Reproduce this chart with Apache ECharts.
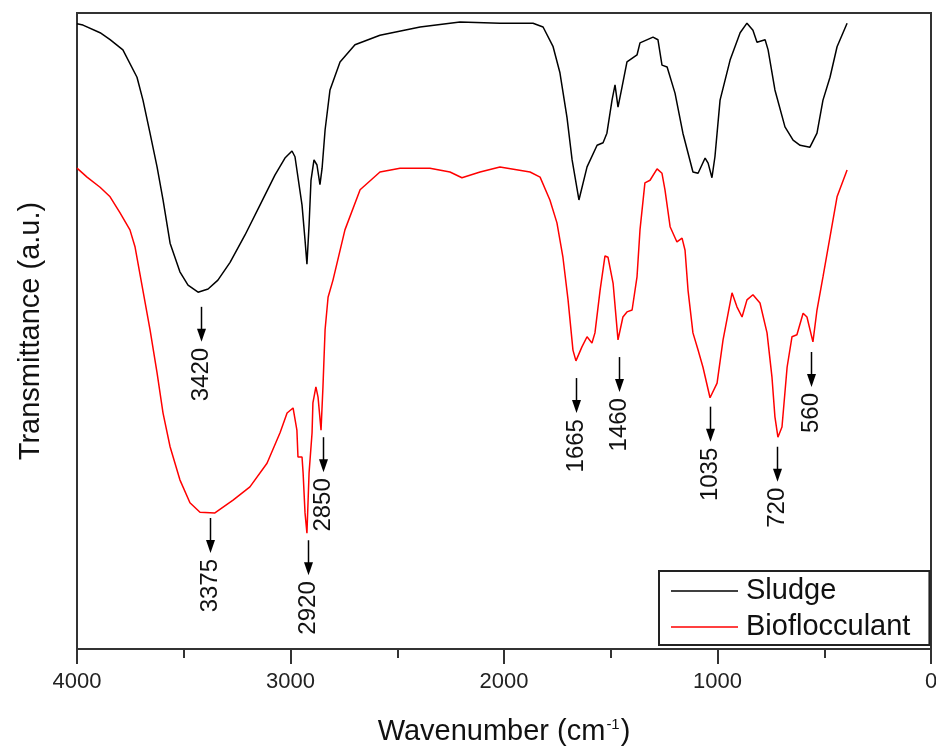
<!DOCTYPE html>
<html>
<head>
<meta charset="utf-8">
<script src="https://cdn.jsdelivr.net/npm/echarts@6/dist/echarts.min.js"></script>
<style>html,body{margin:0;padding:0;background:#fff;overflow:hidden}#c{width:936px;height:751px}</style>
</head>
<body>
<div id="c"></div>
<script>
// Sludge (black): [wavenumber, transmittance a.u.]
var sludgeWave = [4000,3972,3892,3845,3785,3719,3691,3658,3625,3597,3564,3518,3480,3433,3386,3340,3283,3213,3143,3073,3026,2993,2979,2946,2932,2923,2913,2904,2890,2876,2862,2852,2838,2815,2768,2698,2581,2393,2206,2019,1864,1817,1770,1738,1705,1681,1649,1611,1564,1536,1518,1494,1480,1466,1447,1424,1377,1363,1302,1279,1260,1236,1199,1162,1115,1091,1058,1044,1026,1012,988,941,894,862,834,815,777,763,731,684,646,613,567,534,506,473,440,393];
var sludgeT = [98.3,98.1,96.9,95.8,94.2,89.9,86.3,81.1,75.8,70.6,63.8,59.3,57.2,56.1,56.6,58.0,60.8,65.1,69.8,74.5,77.2,78.3,77.4,69.8,64.3,60.5,66.7,73.7,76.9,76.1,73.0,75.6,81.6,87.9,92.3,95.0,96.5,97.8,98.6,98.4,98.4,97.8,94.7,90.6,83.6,76.9,70.6,75.8,79.2,79.6,81.1,86.3,88.7,85.2,88.4,92.3,93.4,95.3,96.2,95.8,91.8,91.5,87.4,81.1,75.0,74.8,77.2,76.4,74.1,77.4,86.3,92.6,96.9,98.4,97.3,95.4,95.8,94.2,87.9,82.1,80.0,79.2,78.9,81.1,86.3,89.9,94.7,98.4];
// Bioflocculant (red)
var biofWave = [4000,3953,3892,3845,3799,3752,3728,3658,3625,3597,3564,3518,3471,3424,3354,3269,3190,3110,3049,3016,2988,2970,2965,2946,2941,2932,2923,2913,2899,2895,2881,2871,2857,2848,2838,2824,2801,2745,2674,2581,2487,2347,2253,2197,2112,2019,1878,1831,1785,1752,1724,1700,1677,1663,1635,1611,1588,1574,1550,1527,1513,1489,1466,1443,1424,1400,1377,1363,1340,1316,1283,1260,1246,1222,1190,1166,1152,1138,1115,1091,1068,1035,1002,974,932,909,885,862,834,801,768,745,731,717,698,674,651,628,599,581,553,534,506,473,440,393];
var biofT = [75.6,74.2,72.6,71.1,68.6,65.9,63.2,50.2,43.4,37.1,31.8,26.6,23.0,21.5,21.4,23.4,25.5,29.2,34.0,37.1,37.9,34.4,30.2,30.2,27.7,21.4,18.2,27.7,34.0,38.7,41.2,39.6,34.4,41.2,50.2,55.3,58.0,65.9,72.2,75.0,75.6,75.6,75.0,74.1,75.0,75.8,75.0,74.2,70.6,67.0,61.6,54.9,47.0,45.3,47.5,49.1,48.1,49.7,56.4,61.8,61.6,57.5,48.6,52.2,53.0,53.3,58.5,65.9,73.3,73.7,75.5,74.8,72.2,66.4,64.0,64.6,62.7,56.4,49.7,47.0,44.3,39.5,41.8,48.6,56.0,53.8,52.2,54.9,55.7,54.4,49.7,42.8,36.5,33.3,34.9,44.3,49.1,49.4,52.8,52.2,48.3,53.3,58.5,64.8,71.1,75.3];
// Peak annotations: label wavenumber and arrow-top level (a.u.)
var peakLabels = [3420, 3375, 2920, 2850, 1665, 1460, 1035, 720, 560];
var peakLevels = [53.8, 20.6, 17.1, 33.3, 42.6, 45.9, 38.1, 31.8, 46.7];
var xTicks = [4000, 3000, 2000, 1000, 0];

function zip(a, b) { return a.map(function (v, i) { return [v, b[i]]; }); }

var FONT = '"Liberation Sans", Arial, sans-serif';
var LEG_ICON = 'path://M0,0H67V1.6H0Z';
var chart = echarts.init(document.getElementById('c'), null, {renderer: 'canvas'});
chart.setOption({
  animation: false,
  backgroundColor: '#fff',
  textStyle: {fontFamily: FONT},
  grid: {left: 77, right: 5, top: 13, bottom: 102, show: true, borderColor: '#333', borderWidth: 2,
    backgroundColor: 'transparent', containLabel: false, outerBoundsMode: 'none'},
  xAxis: {
    type: 'value', inverse: true, min: 0, max: 4000, interval: 1000,
    axisLine: {show: true, lineStyle: {color: '#333', width: 2}},
    axisTick: {show: true, length: 15, lineStyle: {color: '#333', width: 2}},
    minorTick: {show: true, splitNumber: 2, length: 9, lineStyle: {color: '#333', width: 2}},
    splitLine: {show: false},
    axisLabel: {fontSize: 22, color: '#222', fontFamily: FONT, margin: 22, hideOverlap: false,
      formatter: function (v) { return xTicks.indexOf(v) >= 0 ? String(v) : ''; }},
    name: '{a|Wavenumber (cm}{s|-1}{a|)}', nameLocation: 'middle', nameGap: 68,
    nameTextStyle: {rich: {
      a: {fontSize: 29, color: '#111', fontFamily: FONT},
      s: {fontSize: 15, color: '#111', fontFamily: FONT, verticalAlign: 'top', padding: [0, 1, 14, 1]}
    }}
  },
  yAxis: {
    type: 'value', min: 0, max: 100,
    axisLine: {show: true, lineStyle: {color: '#333', width: 2}},
    axisTick: {show: false}, axisLabel: {show: false}, splitLine: {show: false},
    name: 'Transmittance (a.u.)', nameLocation: 'middle', nameGap: 32,
    nameTextStyle: {fontSize: 29, color: '#111', fontFamily: FONT}
  },
  legend: {
    orient: 'vertical', left: 659, top: 571,
    padding: [3, 19, 1, 12],
    borderColor: '#222', borderWidth: 2, backgroundColor: '#fff',
    itemWidth: 67, itemHeight: 14, itemGap: 2,
    textStyle: {fontSize: 29, color: '#111', fontFamily: FONT, lineHeight: 34, padding: [0, 0, 0, 3]},
    data: [{name: 'Sludge', icon: LEG_ICON}, {name: 'Bioflocculant', icon: LEG_ICON}]
  },
  series: [
    {name: 'Sludge', type: 'line', data: zip(sludgeWave, sludgeT), showSymbol: false, symbol: 'none',
      lineStyle: {color: '#000', width: 1.5}, itemStyle: {color: '#000'}, z: 3},
    {name: 'Bioflocculant', type: 'line', data: zip(biofWave, biofT), showSymbol: false, symbol: 'none',
      lineStyle: {color: '#ff0000', width: 1.5}, itemStyle: {color: '#ff0000'}, z: 3},
    {name: 'peaks', type: 'custom', coordinateSystem: 'cartesian2d', silent: true, z: 5,
      data: zip(peakLabels, peakLevels), encode: {x: 0, y: 1},
      renderItem: function (params, api) {
        var p = api.coord([api.value(0), api.value(1)]);
        var x = Math.round(p[0]) + 0.5, top = p[1], tip = top + 35;
        return {type: 'group', children: [
          {type: 'line', shape: {x1: x, y1: top, x2: x, y2: tip - 8}, style: {stroke: '#000', lineWidth: 1.5}},
          {type: 'polygon', shape: {points: [[x - 4.5, tip - 13], [x + 4.5, tip - 13], [x, tip]]}, style: {fill: '#000'}},
          {type: 'text', x: x, y: tip + 6, rotation: Math.PI / 2,
            style: {text: String(api.value(0)), x: 0, y: 0, align: 'right', verticalAlign: 'middle',
              font: '24px ' + FONT, fill: '#111'}}
        ]};
      }
    }
  ]
});
</script>
</body>
</html>
